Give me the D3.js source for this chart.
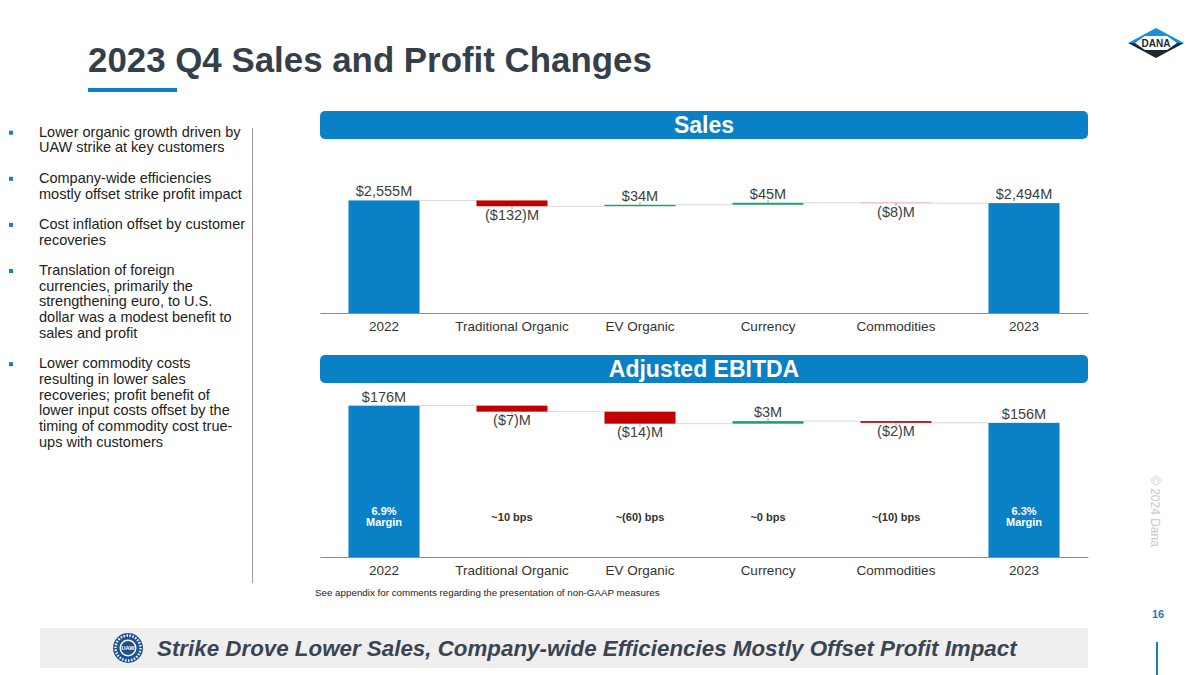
<!DOCTYPE html>
<html>
<head>
<meta charset="utf-8">
<script src="https://cdn.jsdelivr.net/npm/d3@7"></script>
<style>
  body { margin: 0; background: #fff; }
  svg { display: block; }
  text { font-family: "Liberation Sans", Arial, sans-serif; }
</style>
</head>
<body>
<script>
// ---- data ----
const categories = ["2022", "Traditional Organic", "EV Organic", "Currency", "Commodities", "2023"];
const salesValues = [2555, -132, 34, 45, -8, 2494];
const salesLabels = ["$2,555M", "($132)M", "$34M", "$45M", "($8)M", "$2,494M"];
const ebitdaValues = [176, -7, -14, 3, -2, 156];
const ebitdaLabels = ["$176M", "($7)M", "($14)M", "$3M", "($2)M", "$156M"];
const marginNotes = [["6.9%", "Margin"], ["~10 bps"], ["~(60) bps"], ["~0 bps"], ["~(10) bps"], ["6.3%", "Margin"]];
const bullets = [
  ["Lower organic growth driven by", "UAW strike at key customers"],
  ["Company-wide efficiencies", "mostly offset strike profit impact"],
  ["Cost inflation offset by customer", "recoveries"],
  ["Translation of foreign", "currencies, primarily the", "strengthening euro, to U.S.", "dollar was a modest benefit to", "sales and profit"],
  ["Lower commodity costs", "resulting in lower sales", "recoveries; profit benefit of", "lower input costs offset by the", "timing of commodity cost true-", "ups with customers"]
];

const blue = "#0a80c6", red = "#c00000", green = "#17a36b", ink = "#343f4a";

const svg = d3.select("body").append("svg")
  .attr("width", 1200).attr("height", 675);

// shrink/grow a text to a target width
function fit(sel, w) {
  const cur = sel.node().getComputedTextLength();
  const fs = parseFloat(sel.attr("font-size"));
  sel.attr("font-size", fs * w / cur);
}

// ---- title ----
const title = svg.append("text").attr("x", 88).attr("y", 72)
  .attr("font-size", 35).attr("font-weight", "bold").attr("fill", ink)
  .text("2023 Q4 Sales and Profit Changes");
fit(title, 564);
svg.append("rect").attr("x", 88).attr("y", 88).attr("width", 89).attr("height", 4).attr("fill", blue);

// ---- DANA logo ----
const logo = svg.append("g").attr("transform", "translate(1156,43)");
logo.append("path").attr("d", "M-28,0 L0,-15 L28,0 Z").attr("fill", "#1a8fd6");
logo.append("path").attr("d", "M-28,0 L0,15 L28,0 Z").attr("fill", "#1c2836");
logo.append("path").attr("d", "M-21,0 L-11,-7 L11,-7 L21,0 L11,7 L-11,7 Z").attr("fill", "#fff");
logo.append("text").attr("y", 3.5).attr("text-anchor", "middle").attr("font-size", 10)
  .attr("font-weight", "bold").attr("fill", "#1c2836").text("DANA");

// ---- bullets ----
const lh = 15.7, gap = 14.7;
let by = 136.7;
bullets.forEach(lines => {
  svg.append("rect").attr("x", 9).attr("y", by - 6).attr("width", 4).attr("height", 4).attr("fill", "#1a7dc0");
  lines.forEach(l => {
    svg.append("text").attr("x", 39).attr("y", by).attr("font-size", 14.5).attr("fill", "#222").text(l);
    by += lh;
  });
  by += gap;
});
svg.append("line").attr("x1", 252.5).attr("x2", 252.5).attr("y1", 128).attr("y2", 583)
  .attr("stroke", "#999").attr("stroke-width", 1);

// ---- shared x scale ----
const x = d3.scaleBand().domain(categories).range([320, 1088])
  .paddingInner(0.445).paddingOuter(0.2225);
const bw = x.bandwidth();

function header(yTop, label) {
  svg.append("rect").attr("x", 320).attr("y", yTop).attr("width", 768).attr("height", 28)
    .attr("rx", 5).attr("fill", blue);
  svg.append("text").attr("x", 704).attr("y", yTop + 22).attr("text-anchor", "middle")
    .attr("font-size", 23).attr("font-weight", "bold").attr("fill", "#fff").text(label);
}

function waterfall(values, labels, y, axisY) {
  const g = svg.append("g");
  let run = 0;
  const steps = values.map((v, i) => {
    const total = i === 0 || i === values.length - 1;
    const start = total ? 0 : run;
    const end = total ? v : run + v;
    run = end;
    return { cat: categories[i], v, total, start, end, label: labels[i] };
  });

  // connectors
  g.selectAll(".conn").data(steps.slice(0, -1)).enter().append("line")
    .attr("x1", d => x(d.cat) + bw).attr("x2", (d, i) => x(steps[i + 1].cat))
    .attr("y1", d => y(d.end)).attr("y2", d => y(d.end))
    .attr("stroke", "#d9d9d9").attr("stroke-width", 1);

  g.selectAll(".bar").data(steps).enter().append("rect")
    .attr("x", d => x(d.cat)).attr("width", bw)
    .attr("y", d => y(Math.max(d.start, d.end)))
    .attr("height", d => Math.abs(y(d.start) - y(d.end)))
    .attr("fill", d => d.total ? blue : (d.v < 0 ? red : green));

  // small leader ticks
  g.selectAll(".tick-l").data(steps.filter(d => !d.total)).enter().append("line")
    .attr("x1", d => x(d.cat) + bw / 2).attr("x2", d => x(d.cat) + bw / 2)
    .attr("y1", d => y(d.end))
    .attr("y2", d => d.v < 0 ? y(d.end) + 3 : y(d.end) - 3)
    .attr("stroke", "#999").attr("stroke-width", 1);

  g.selectAll(".val").data(steps).enter().append("text")
    .attr("x", d => x(d.cat) + bw / 2)
    .attr("y", d => (d.total || d.v >= 0) ? y(Math.max(d.start, d.end)) - 4 : y(Math.min(d.start, d.end)) + 13.5)
    .attr("text-anchor", "middle").attr("font-size", 14.5).attr("fill", "#404040")
    .text(d => d.label);

  const ax = g.append("g").attr("transform", `translate(0,${axisY})`)
    .call(d3.axisBottom(x).tickSize(0).tickSizeOuter(0).tickPadding(8.5));
  ax.select(".domain").attr("stroke", "#8c8c8c");
  ax.selectAll("text").attr("font-size", 13.5).attr("fill", "#333")
    .attr("font-family", "'Liberation Sans', Arial, sans-serif");
  return steps;
}

// ---- Sales ----
header(111, "Sales");
const ySales = d3.scaleLinear().domain([0, 3700]).range([313, 150]);
waterfall(salesValues, salesLabels, ySales, 313);

// ---- Adjusted EBITDA ----
header(355, "Adjusted EBITDA");
const yEbitda = d3.scaleLinear().domain([0, 200]).range([557, 385]);
const eSteps = waterfall(ebitdaValues, ebitdaLabels, yEbitda, 557);

// margin / bps notes
eSteps.forEach((d, i) => {
  const note = marginNotes[i];
  const cx = x(d.cat) + bw / 2;
  if (note.length === 2) {
    note.forEach((t, j) => {
      svg.append("text").attr("x", cx).attr("y", 515 + j * 11).attr("text-anchor", "middle")
        .attr("font-size", 11).attr("font-weight", "bold").attr("fill", "#fff").text(t);
    });
  } else {
    svg.append("text").attr("x", cx).attr("y", 520.5).attr("text-anchor", "middle")
      .attr("font-size", 11).attr("font-weight", "bold").attr("fill", "#333").text(note[0]);
  }
});

// footnote
const foot = svg.append("text").attr("x", 315).attr("y", 596).attr("font-size", 9.8).attr("fill", "#222")
  .text("See appendix for comments regarding the presentation of non-GAAP measures");
fit(foot, 345);

// ---- bottom banner ----
svg.append("rect").attr("x", 40).attr("y", 628).attr("width", 1048).attr("height", 40).attr("fill", "#efefef");
const uaw = svg.append("g").attr("transform", "translate(128,648)");
uaw.append("circle").attr("r", 15).attr("fill", "#1d4f91");
uaw.append("circle").attr("r", 12.5).attr("fill", "none").attr("stroke", "#fff")
  .attr("stroke-width", 2.5).attr("stroke-dasharray", "1.5 1.5");
uaw.append("circle").attr("r", 8.5).attr("fill", "#fff");
uaw.append("circle").attr("r", 7).attr("fill", "#1d4f91");
uaw.append("text").attr("y", 2).attr("text-anchor", "middle").attr("font-size", 5.5)
  .attr("font-weight", "bold").attr("fill", "#fff").text("UAW");
const banner = svg.append("text").attr("x", 157).attr("y", 656)
  .attr("font-size", 21).attr("font-weight", "bold").attr("font-style", "italic").attr("fill", "#3a4452")
  .text("Strike Drove Lower Sales, Company-wide Efficiencies Mostly Offset Profit Impact");
fit(banner, 860);

// ---- page furniture ----
svg.append("text").attr("transform", "translate(1151,476) rotate(90)")
  .attr("font-size", 12).attr("fill", "#c8c8c8").text("© 2024 Dana");
svg.append("text").attr("x", 1158).attr("y", 618).attr("text-anchor", "middle")
  .attr("font-size", 11).attr("font-weight", "bold").attr("fill", "#1a7dc0").text("16");
svg.append("line").attr("x1", 1157).attr("x2", 1157).attr("y1", 642).attr("y2", 675)
  .attr("stroke", "#1a7dc0").attr("stroke-width", 2);
</script>
</body>
</html>
